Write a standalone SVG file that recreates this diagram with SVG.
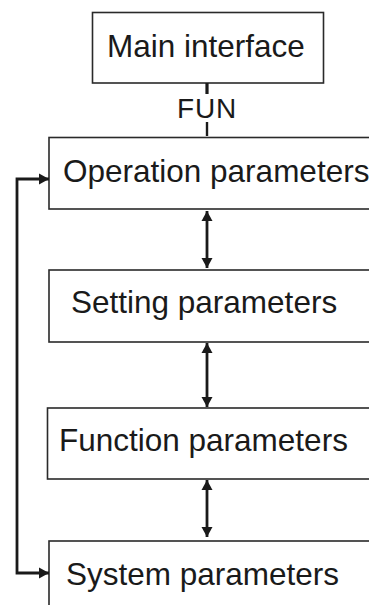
<svg xmlns="http://www.w3.org/2000/svg" width="369" height="605" viewBox="0 0 369 605">
<style>
.box{fill:#fff;stroke:#2a2a2a;stroke-width:1.6}
.lbl{font-family:"Liberation Sans",Arial,sans-serif;font-size:31.5px;fill:#1a1a1a}
.con{fill:none;stroke:#1a1a1a;stroke-width:2.8}
</style>
<defs>
<marker id="ah" markerUnits="userSpaceOnUse" markerWidth="12" markerHeight="12" viewBox="0 0 12 12" refX="11" refY="6" orient="auto-start-reverse">
<path d="M1,0.5 L11,6 L1,11.5 Z" fill="#1a1a1a"/>
</marker>
</defs>
<rect width="369" height="605" fill="#fff"/>
<g id="main"><rect class="box" x="92.5" y="12.5" width="231" height="70.5"/><text class="lbl" x="107" y="57">Main interface</text></g>
<g id="operation"><rect class="box" x="49" y="137.5" width="325" height="71.5"/><text class="lbl" x="63" y="182">Operation parameters</text></g>
<g id="setting"><rect class="box" x="49" y="270" width="325" height="72"/><text class="lbl" x="71" y="313">Setting parameters</text></g>
<g id="function"><rect class="box" x="47.5" y="408" width="326" height="71"/><text class="lbl" x="59" y="451">Function parameters</text></g>
<g id="system"><rect class="box" x="49" y="541" width="325" height="70"/><text class="lbl" x="66" y="585">System parameters</text></g>
<g id="connectors">
<line x1="207" y1="83" x2="207" y2="94" stroke="#1a1a1a" stroke-width="3.2"/>
<text x="177" y="118" font-family="Liberation Sans,Arial,sans-serif" font-size="28" fill="#1a1a1a" letter-spacing="0.8">FUN</text>
<line x1="207" y1="122" x2="207" y2="136" stroke="#1a1a1a" stroke-width="2.4"/>
<line class="con" x1="207" y1="211" x2="207" y2="268" marker-start="url(#ah)" marker-end="url(#ah)"/>
<line class="con" x1="207" y1="343" x2="207" y2="407" marker-start="url(#ah)" marker-end="url(#ah)"/>
<line class="con" x1="207" y1="480" x2="207" y2="537" marker-start="url(#ah)" marker-end="url(#ah)"/>
<path class="con" d="M49,179 H17 V573 H49" marker-start="url(#ah)" marker-end="url(#ah)"/>
</g>
</svg>
